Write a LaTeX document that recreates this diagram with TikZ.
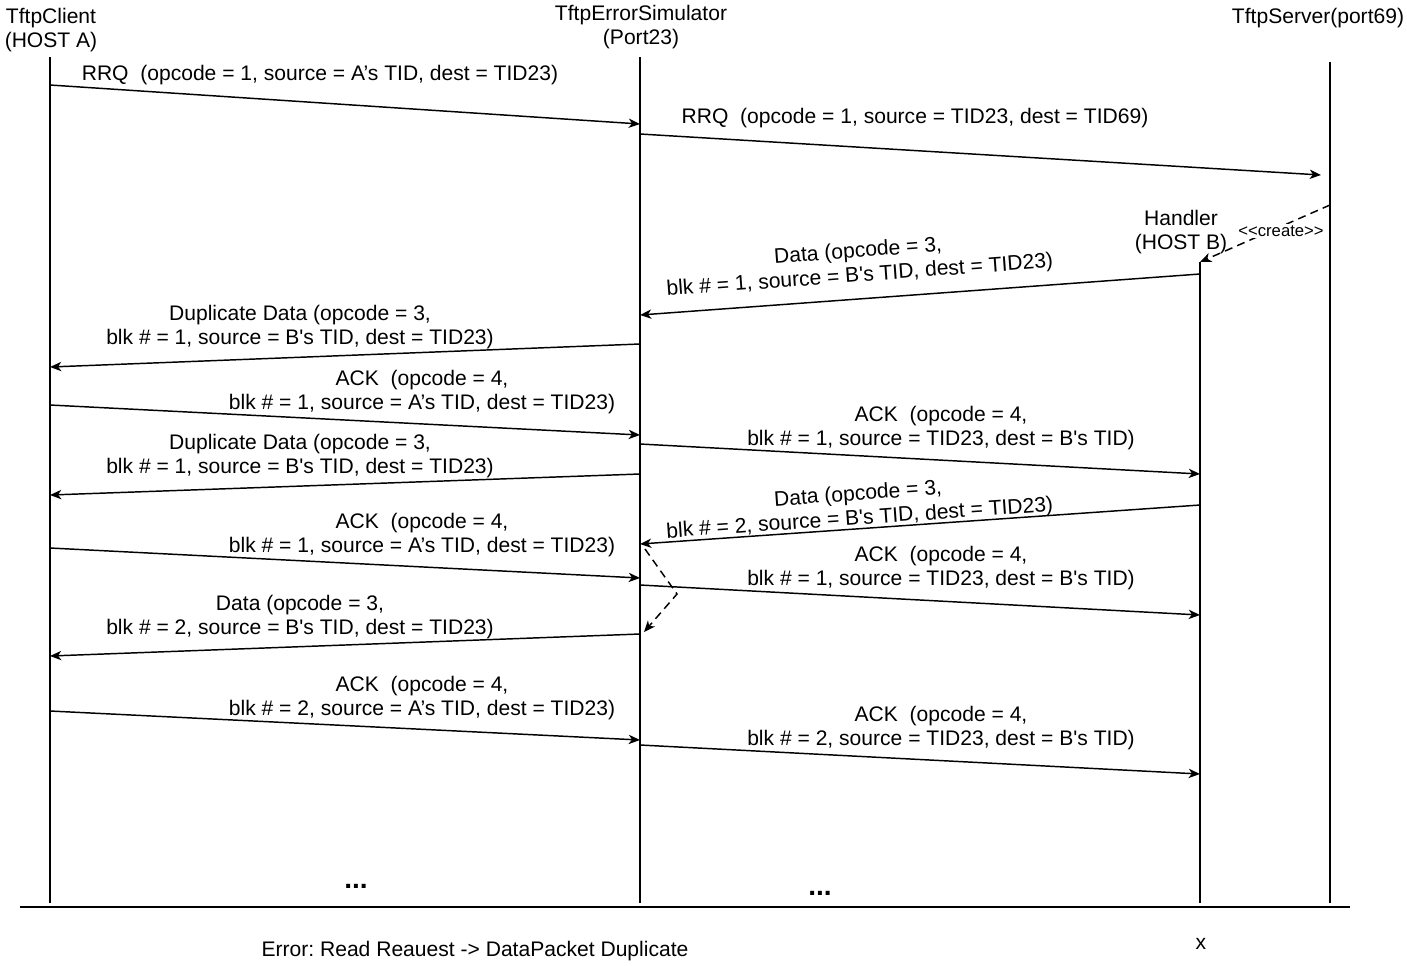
\documentclass[tikz,border=0pt]{standalone}
\usepackage{fontspec}
\setmainfont{Liberation Sans}
\usetikzlibrary{arrows.meta}
\frenchspacing
\begin{document}
\begin{tikzpicture}[x=0.75pt,y=-0.75pt,
  msg/.style={line width=1.1pt,-{Stealth[length=8.5pt,width=7pt,inset=2.5pt]}},
  lbl/.style={align=center,inner sep=0pt,yshift=-1.5pt,font=\fontsize{15.8pt}{18.3pt}\selectfont},
  dots/.style={inner sep=0pt,font=\fontsize{21pt}{22pt}\selectfont\bfseries}]%
% sequence chart, coordinates in pixels of the 1407x965 sheet
\ifx\seqlw\undefined\newdimen\seqlw\fi
\global\def\seqdraw{\draw[line width=\seqlw]}
\global\def\Bs{B\textquotesingle s}
\seqlw=1.1pt
\useasboundingbox (0,0) rectangle (1407,965);
\node[lbl] (client) at (51,28) {TftpClient\\(HOST A)};
\node[lbl] (sim) at (641,25) {TftpErrorSimulator\\(Port23)};
\node[lbl] (server) at (1318,16) {TftpServer(port69)};
\node[lbl] (handler) at (1181,230) {Handler\\(HOST B)};
\coordinate (ctop) at (50,57);
\coordinate (cbot) at (50,903);
\coordinate (stop) at (640,57);
\coordinate (sbot) at (640,903);
\coordinate (vtop) at (1330,62);
\coordinate (vbot) at (1330,903);
\coordinate (htop) at (1200,262);
\coordinate (hbot) at (1200,903);
\seqdraw (ctop) -- (cbot);
\seqdraw (stop) -- (sbot);
\seqdraw (vtop) -- (vbot);
\seqdraw (htop) -- (hbot);
\coordinate (bl) at (20,907);
\coordinate (br) at (1350,907);
\draw[line width=1.5pt] (bl) -- (br);
% RRQ
\coordinate (c1) at (50,85);
\coordinate (s1) at (640,124);
\draw[msg] (c1) -- (s1);
\node[lbl] (m1) at (320,73) {RRQ\ \ (opcode = 1, source = A’s TID, dest = TID23)};
\coordinate (s2) at (640,134);
\coordinate (v2) at (1321,175);
\draw[msg] (s2) -- (v2);
\node[lbl] (m2) at (915,116) {RRQ\ \ (opcode = 1, source = TID23, dest = TID69)};
\coordinate (v3) at (1330,205);
\draw[msg,dash pattern=on 6pt off 4pt] (v3) -- (htop);
\node[inner sep=1pt,fill=white,font=\fontsize{12.5pt}{14pt}\selectfont] (create) at (1281,231) {<{}<create>{}>};
% data 1
\coordinate (h4) at (1200,274);
\coordinate (s4) at (640,315);
\draw[msg] (h4) -- (s4);
\node[lbl,rotate=4.2] (m4) at (859,262) {Data (opcode = 3,\\blk \# = 1, source = \Bs{} TID, dest = TID23)};
\coordinate (s5) at (640,344);
\coordinate (c5) at (50,367);
\draw[msg] (s5) -- (c5);
\node[lbl] (m5) at (300,325) {Duplicate Data (opcode = 3,\\blk \# = 1, source = \Bs{} TID, dest = TID23)};
\coordinate (c6) at (50,405);
\coordinate (s6) at (640,435);
\draw[msg] (c6) -- (s6);
\node[lbl] (m6) at (422,390) {ACK\ \ (opcode = 4,\\blk \# = 1, source = A’s TID, dest = TID23)};
\coordinate (s7) at (640,444);
\coordinate (h7) at (1200,474);
\draw[msg] (s7) -- (h7);
\node[lbl] (m7) at (941,426) {ACK\ \ (opcode = 4,\\blk \# = 1, source = TID23, dest = \Bs{} TID)};
\coordinate (s8) at (640,474);
\coordinate (c8) at (50,495);
\draw[msg] (s8) -- (c8);
\node[lbl] (m8) at (300,454) {Duplicate Data (opcode = 3,\\blk \# = 1, source = \Bs{} TID, dest = TID23)};
% data 2
\coordinate (h9) at (1200,505);
\coordinate (s9) at (640,544);
\draw[msg] (h9) -- (s9);
\node[lbl,rotate=4.0] (m9) at (859,505) {Data (opcode = 3,\\blk \# = 2, source = \Bs{} TID, dest = TID23)};
\coordinate (c10) at (50,548);
\coordinate (s10) at (640,578);
\draw[msg] (c10) -- (s10);
\node[lbl] (m10) at (422,533) {ACK\ \ (opcode = 4,\\blk \# = 1, source = A’s TID, dest = TID23)};
\coordinate (s11) at (640,585);
\coordinate (h11) at (1200,615);
\draw[msg] (s11) -- (h11);
\node[lbl] (m11) at (941,566) {ACK\ \ (opcode = 4,\\blk \# = 1, source = TID23, dest = \Bs{} TID)};
\coordinate (d1) at (645,549);
\coordinate (d2) at (677,594);
\coordinate (d3) at (644,632);
\draw[msg,dash pattern=on 6pt off 4pt] (d1) -- (d2) -- (d3);
\coordinate (s13) at (640,634);
\coordinate (c13) at (50,656);
\draw[msg] (s13) -- (c13);
\node[lbl] (m13) at (300,615) {Data (opcode = 3,\\blk \# = 2, source = \Bs{} TID, dest = TID23)};
\coordinate (c14) at (50,711);
\coordinate (s14) at (640,740);
\draw[msg] (c14) -- (s14);
\node[lbl] (m14) at (422,696) {ACK\ \ (opcode = 4,\\blk \# = 2, source = A’s TID, dest = TID23)};
\coordinate (s15) at (640,745);
\coordinate (h15) at (1200,774);
\draw[msg] (s15) -- (h15);
\node[lbl] (m15) at (941,726) {ACK\ \ (opcode = 4,\\blk \# = 2, source = TID23, dest = \Bs{} TID)};
\node[dots] (more1) at (356,886) {...};
\node[dots] (more2) at (820,893) {...};
\node[lbl] (title) at (475,949) {Error: Read Reauest -> DataPacket Duplicate};
\node[lbl] (end) at (1201,942) {x};
\end{tikzpicture}
\end{document}
